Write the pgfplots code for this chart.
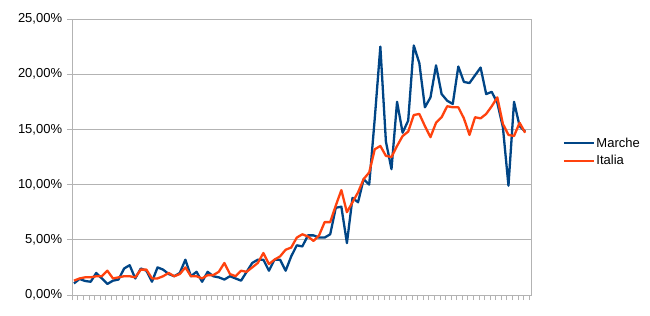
\documentclass[border=0pt]{standalone}
\usepackage{pgfplots}
\pgfplotsset{compat=1.18}
\usepackage{pgfplotstable}
\usepackage{fontspec}
\setmainfont{Liberation Sans}
\definecolor{marche}{HTML}{004586}
\definecolor{italia}{HTML}{FF420E}
\definecolor{gridc}{HTML}{B3B3B3}

\pgfplotstableread{
i m t
0 1.05 1.3
1 1.45 1.5
2 1.27 1.6
3 1.2 1.6
4 2.0 1.7
5 1.5 1.7
6 1.0 2.2
7 1.3 1.5
8 1.4 1.6
9 2.4 1.7
10 2.7 1.7
11 1.5 1.6
12 2.4 2.3
13 2.2 2.3
14 1.2 1.5
15 2.5 1.5
16 2.3 1.7
17 1.9 2.0
18 1.7 1.7
19 2.0 1.9
20 3.2 2.5
21 1.7 1.7
22 2.1 1.7
23 1.2 1.5
24 2.1 1.8
25 1.7 1.8
26 1.6 2.1
27 1.4 2.9
28 1.7 1.9
29 1.5 1.7
30 1.3 2.2
31 2.1 2.1
32 2.9 2.5
33 3.2 2.9
34 3.2 3.8
35 2.2 2.8
36 3.2 3.2
37 3.2 3.5
38 2.2 4.1
39 3.5 4.3
40 4.5 5.2
41 4.4 5.5
42 5.4 5.3
43 5.4 4.9
44 5.2 5.4
45 5.2 6.6
46 5.5 6.6
47 7.9 8.1
48 8.0 9.5
49 4.7 7.5
50 8.8 8.4
51 8.4 9.3
52 10.5 10.5
53 10.0 11.1
54 16.0 13.2
55 22.5 13.5
56 13.9 12.6
57 11.4 12.5
58 17.5 13.5
59 14.7 14.4
60 15.8 14.8
61 22.6 16.3
62 21.0 16.4
63 17.0 15.3
64 17.9 14.3
65 20.8 15.6
66 18.2 16.1
67 17.6 17.1
68 17.3 17.0
69 20.7 17.0
70 19.3 16.0
71 19.2 14.5
72 19.9 16.1
73 20.6 16.0
74 18.2 16.4
75 18.4 17.1
76 17.4 17.9
77 15.2 15.5
78 9.9 14.5
79 17.5 14.4
80 15.3 15.6
81 14.8 14.7
}\data

\begin{document}
\begin{tikzpicture}
\path[use as bounding box] (-72.3bp,-21bp) rectangle (577.7bp,295bp);
\begin{axis}[
  at={(0,0)}, anchor=south west,
  scale only axis, width=459bp, height=276bp,
  xmin=-0.3, xmax=82.1, ymin=0, ymax=25,
  ytick={0,5,10,15,20,25},
  yticklabels={{0,00\%},{5,00\%},{10,00\%},{15,00\%},{20,00\%},{25,00\%}},
  xtick={-0.3,0.7,...,81.8},
  xticklabels={},
  xtick pos=bottom, ytick pos=left,
  tick align=outside,
  major tick length=5bp,
  ymajorgrids,
  grid style={gridc, line width=0.8bp},
  axis line style={gridc, line width=0.8bp},
  tick style={gridc, line width=0.8bp},
  ticklabel style={font=\fontsize{13bp}{15bp}\selectfont},
  yticklabel style={inner sep=0pt, xshift=-5bp},
  legend style={at={(rel axis cs:1.069,0.518)}, anchor=west, draw=none, fill=none,
    font=\fontsize{13bp}{15bp}\selectfont, inner sep=0pt, row sep=3bp},
  legend cell align=left,
  legend image code/.code={\draw[#1,line width=1.3bp] (0bp,0bp) -- (30bp,0bp);},
]
\addplot[marche, line width=2.3bp, line join=round] table[x=i,y=m] {\data};
\addlegendentry{Marche}
\addplot[italia, line width=2.3bp, line join=round] table[x=i,y=t] {\data};
\addlegendentry{Italia}
\end{axis}
\end{tikzpicture}
\end{document}
